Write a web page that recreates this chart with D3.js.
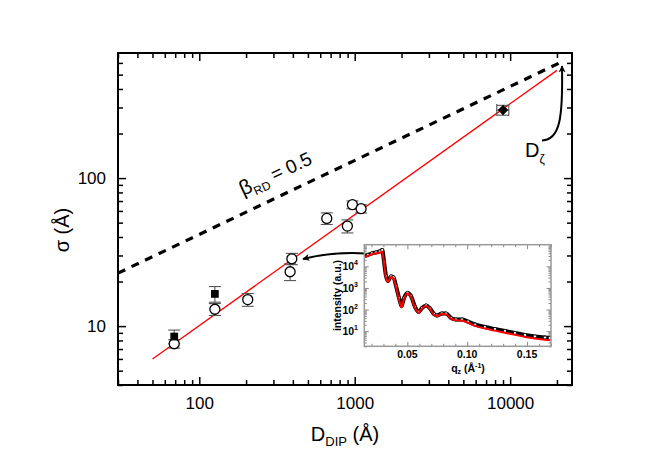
<!DOCTYPE html>
<html><head><meta charset="utf-8">
<script src="https://cdn.jsdelivr.net/npm/d3@7"></script>
<style>
body{margin:0;background:#fff;}
svg{display:block;font-family:"Liberation Sans",Arial,Helvetica,sans-serif;}
</style>
</head><body>
<svg id="c" width="664" height="463"></svg>
<script>
// ---- main plot data ----
const openD      = [69, 126, 205, 384, 394, 661, 897, 967, 1099];
const openSigma  = [7.6, 13.0, 15.1, 23.3, 28.5, 53.4, 47.4, 66.1, 62.1];
const openErr    = [0.5, 1.2, 1.5, 3.0, 2.5, 4.8, 4.8, 4.0, 4.0];
const squareD    = [69, 126];
const squareSigma= [8.5, 16.5];
const squareErr  = [0.9, 2.0];
const diamondD   = [9000];
const diamondSigma=[288];
const diamondXErr= [800];
const diamondYErr= [22];
const fitD       = [50, 20000];     // red power-law fit
const fitSigma   = [6, 534];
const betaD      = [30, 22000];     // beta_RD = 0.5 line
const betaSigma  = [22.8, 617];
const xTicks     = [100, 1000, 10000];
const xTickLabels= ["100", "1000", "10000"];
const yTicks     = [10, 100];
const yTickLabels= ["10", "100"];

// ---- inset data ----
const qz    = [0.014,0.0171,0.0204,0.0238,0.0271,0.029,0.0305,0.0321,0.0338,0.0363,0.0384,0.0405,0.043,0.0451,0.0472,0.0501,0.053,0.0564,0.0593,0.0622,0.0656,0.0689,0.0722,0.0747,0.0789,0.0823,0.0864,0.0906,0.0956,0.1006,0.1065,0.1148,0.1232,0.1315,0.1399,0.1483,0.1566,0.165,0.169];
const iMeas = [29500,34000,40000,44000,49000,57000,16000,3600,2100,3400,3100,1230,345,148,345,590,427,132,78,118,155,112,63,53,66,66,41,35,35,28,20.4,15.6,12.6,10.2,8.3,6.7,5.7,5.1,4.9];
const iFit  = [26000,31000,36000,40000,44000,47000,14000,3000,1900,3200,2800,1100,300,125,320,560,400,120,72,112,145,104,58,50,62,61,38,32,31,24.5,17.5,13.2,10.6,8.5,6.8,5.4,4.6,4.0,3.8];
const qTicks = [0.05, 0.10, 0.15];
const qTickLabels = ["0.05", "0.10", "0.15"];
const iTicks = [10, 100, 1000, 10000];
const iTickExp = ["1", "2", "3", "4"];

const svg = d3.select("#c");
const L=118, R=572, T=53, B=385;
const x = d3.scaleLog().domain([30, 25000]).range([L, R]);
const y = d3.scaleLog().domain([4, 700]).range([B, T]);

function minorLog(dom){
  const out=[];
  for(let e=-3;e<=6;e++){ for(let m=2;m<=9;m++){ const v=m*Math.pow(10,e); if(v>=dom[0]&&v<=dom[1]) out.push(v);} }
  return out;
}

// axes (inward ticks on all four sides)
const axG = svg.append("g");
function drawAxis(axisFn, scale, pos, major, labels, minor, showLabels){
  const gMin = axG.append("g").attr("transform", pos)
    .call(axisFn(scale).tickValues(minor).tickSize(-5).tickFormat(""));
  const gMaj = axG.append("g").attr("transform", pos)
    .call(axisFn(scale).tickValues(major).tickSize(-8).tickPadding(showLabels?12:0)
      .tickFormat((d,i)=> showLabels ? labels[i] : ""));
  [gMin,gMaj].forEach(g=>{ g.select(".domain").remove(); g.selectAll("line").attr("stroke","#000").attr("stroke-width",1.5); });
  gMaj.selectAll("text").attr("font-size",17).attr("fill","#000").attr("font-family","Liberation Sans, Arial, sans-serif");
  return gMaj;
}
drawAxis(d3.axisBottom, x, `translate(0,${B})`, xTicks, xTickLabels, minorLog(x.domain()), true);
drawAxis(d3.axisTop, x, `translate(0,${T})`, xTicks, xTickLabels, minorLog(x.domain()), false);
drawAxis(d3.axisLeft, y, `translate(${L},0)`, yTicks, yTickLabels, minorLog(y.domain()).filter(v=>v<700), true);
drawAxis(d3.axisRight, y, `translate(${R},0)`, yTicks, yTickLabels, minorLog(y.domain()).filter(v=>v<700), false);

svg.append("rect").attr("x",L).attr("y",T).attr("width",R-L).attr("height",B-T)
  .attr("fill","none").attr("stroke","#000").attr("stroke-width",2);

// lines
const lineMain = d3.line().x(d=>x(d[0])).y(d=>y(d[1]));
svg.append("path").datum(betaD.map((d,i)=>[d,betaSigma[i]]))
  .attr("d", lineMain).attr("fill","none").attr("stroke","#000")
  .attr("stroke-width",3.2).attr("stroke-dasharray","8,7");
svg.append("path").datum(fitD.map((d,i)=>[d,fitSigma[i]]))
  .attr("d", lineMain).attr("fill","none").attr("stroke","#ff0000").attr("stroke-width",1.3);

// error bars
const eb = svg.append("g").attr("stroke","#555").attr("stroke-width",1.1);
function vErr(D,s,e){
  const cx=x(D), y1=y(s-e), y2=y(s+e);
  eb.append("line").attr("x1",cx).attr("x2",cx).attr("y1",y1).attr("y2",y2);
  eb.append("line").attr("x1",cx-6).attr("x2",cx+6).attr("y1",y1).attr("y2",y1);
  eb.append("line").attr("x1",cx-6).attr("x2",cx+6).attr("y1",y2).attr("y2",y2);
}
function hErr(D,s,e){
  const cy=y(s), x1=x(D-e), x2=x(D+e);
  eb.append("line").attr("x1",x1).attr("x2",x2).attr("y1",cy).attr("y2",cy);
  eb.append("line").attr("x1",x1).attr("x2",x1).attr("y1",cy-6).attr("y2",cy+6);
  eb.append("line").attr("x1",x2).attr("x2",x2).attr("y1",cy-6).attr("y2",cy+6);
}
openD.forEach((d,i)=>vErr(d,openSigma[i],openErr[i]));
squareD.forEach((d,i)=>vErr(d,squareSigma[i],squareErr[i]));
diamondD.forEach((d,i)=>{vErr(d,diamondSigma[i],diamondYErr[i]); hErr(d,diamondSigma[i],diamondXErr[i]);});

// markers
svg.append("g").selectAll("circle").data(openD).join("circle")
  .attr("cx",d=>x(d)).attr("cy",(d,i)=>y(openSigma[i])).attr("r",5)
  .attr("fill","#fff").attr("stroke","#000").attr("stroke-width",1.3);
svg.append("g").selectAll("path").data(squareD).join("path")
  .attr("d", d3.symbol(d3.symbolSquare, 60))
  .attr("transform",(d,i)=>`translate(${x(d)},${y(squareSigma[i])})`).attr("fill","#000");
svg.append("g").selectAll("path").data(diamondD).join("path")
  .attr("d", d3.symbol(d3.symbolSquare, 55))
  .attr("transform",(d,i)=>`translate(${x(d)},${y(diamondSigma[i])}) rotate(45)`).attr("fill","#000");

// arrowheads
const defs = svg.append("defs");
defs.append("marker").attr("id","ah").attr("viewBox","0 0 10 10").attr("refX",9).attr("refY",5)
  .attr("markerWidth",10).attr("markerHeight",7).attr("markerUnits","userSpaceOnUse").attr("orient","auto")
  .append("path").attr("d","M0,0 L10,5 L0,10 L2.5,5 Z").attr("fill","#000");

// D_zeta arrow
svg.append("path").attr("d","M542,140.5 C560,140 563,118 562,66")
  .attr("fill","none").attr("stroke","#000").attr("stroke-width",2).attr("marker-end","url(#ah)");

// inset arrow
svg.append("path").attr("d","M366,253.5 Q333,251.5 303,259")
  .attr("fill","none").attr("stroke","#000").attr("stroke-width",2).attr("marker-end","url(#ah)");

// text
const bt = svg.append("text").attr("transform","translate(243,196) rotate(-25)").attr("font-size",19).attr("fill","#000");
bt.append("tspan").attr("font-size",21).text("β");
bt.append("tspan").attr("font-size",12).attr("dy",5).text("RD");
bt.append("tspan").attr("dy",-5).text(" = 0.5");

const dz = svg.append("text").attr("x",525).attr("y",157).attr("font-size",20).attr("fill","#000");
dz.append("tspan").text("D");
dz.append("tspan").attr("font-size",12).attr("dy",6).text("ζ");

const xl = svg.append("text").attr("x",345).attr("y",441).attr("text-anchor","middle").attr("font-size",20).attr("fill","#000");
xl.append("tspan").text("D");
xl.append("tspan").attr("font-size",13).attr("dy",5).text("DIP");
xl.append("tspan").attr("dy",-5).text(" (Å)");

svg.append("text").attr("transform","translate(69,230) rotate(-90)").attr("text-anchor","middle")
  .attr("font-size",20).attr("fill","#000").text("σ (Å)");

// ---- inset ----
const iL=364.3, iR=551, iT=244.7, iB=346.3;
const xi = d3.scaleLinear().domain([0.014, 0.17]).range([iL, iR]);
const yi = d3.scaleLog().domain([2, 1e5]).range([iB, iT]);
const ins = svg.append("g");
ins.append("rect").attr("x",iL).attr("y",iT).attr("width",iR-iL).attr("height",iB-iT).attr("fill","#fff");

const qMinor = d3.range(0.02, 0.1701, 0.01).filter(v=>Math.abs(v*20-Math.round(v*20))>1e-6);
function inAxis(fn, sc, pos, major, minor){
  const a = ins.append("g").attr("transform",pos).call(fn(sc).tickValues(minor).tickSize(-2.5).tickFormat(""));
  const b = ins.append("g").attr("transform",pos).call(fn(sc).tickValues(major).tickSize(-4.5).tickFormat(""));
  [a,b].forEach(g=>{g.select(".domain").remove(); g.selectAll("line").attr("stroke","#888").attr("stroke-width",1);});
}
inAxis(d3.axisBottom, xi, `translate(0,${iB})`, qTicks, qMinor);
inAxis(d3.axisTop, xi, `translate(0,${iT})`, qTicks, qMinor);
const iMinor = minorLog(yi.domain());
inAxis(d3.axisLeft, yi, `translate(${iL},0)`, iTicks, iMinor);
inAxis(d3.axisRight, yi, `translate(${iR},0)`, iTicks, iMinor);

const clip = defs.append("clipPath").attr("id","ic");
clip.append("rect").attr("x",iL).attr("y",iT).attr("width",iR-iL).attr("height",iB-iT);
const ip = ins.append("g").attr("clip-path","url(#ic)");
const lineIn = d3.line().x(d=>xi(d[0])).y(d=>yi(d[1])).curve(d3.curveMonotoneX);
const meas = qz.map((q,i)=>[q,iMeas[i]]);
const fit = qz.map((q,i)=>[q,iFit[i]]);
ip.append("path").datum(meas).attr("d",lineIn).attr("fill","none").attr("stroke","#000").attr("stroke-width",4);
ip.append("g").selectAll("circle").data(meas).join("circle")
  .attr("cx",d=>xi(d[0])).attr("cy",d=>yi(d[1])).attr("r",1.6)
  .attr("fill","#fff").attr("stroke","#000").attr("stroke-width",0.8);
ip.append("path").datum(fit).attr("d",lineIn).attr("fill","none").attr("stroke","#ff0000").attr("stroke-width",2);

ins.append("rect").attr("x",iL).attr("y",iT).attr("width",iR-iL).attr("height",iB-iT)
  .attr("fill","none").attr("stroke","#999").attr("stroke-width",1.5);

// inset labels
ins.append("g").selectAll("text").data(qTicks).join("text")
  .attr("x",d=>xi(d)).attr("y",358).attr("text-anchor","middle")
  .attr("font-size",10.5).attr("font-weight","bold").attr("fill","#000")
  .text((d,i)=>qTickLabels[i]);
iTicks.forEach((v,i)=>{
  const t = ins.append("text").attr("x",358).attr("y",yi(v)+4).attr("text-anchor","end")
    .attr("font-size",10.5).attr("font-weight","bold").attr("fill","#000");
  t.append("tspan").text("10");
  t.append("tspan").attr("font-size",7).attr("dy",-5).text(iTickExp[i]);
});
const ql = ins.append("text").attr("x",468).attr("y",372).attr("text-anchor","middle")
  .attr("font-size",10.5).attr("font-weight","bold").attr("fill","#000");
ql.append("tspan").text("q");
ql.append("tspan").attr("font-size",7).attr("dy",2).text("z");
ql.append("tspan").attr("dy",-2).text(" (Å");
ql.append("tspan").attr("font-size",7).attr("dy",-4).text("-1");
ql.append("tspan").attr("dy",4).text(")");
ins.append("text").attr("transform",`translate(341,${(iT+iB)/2}) rotate(-90)`).attr("text-anchor","middle")
  .attr("font-size",10.5).attr("font-weight","bold").attr("fill","#000").text("intensity (a.u.)");
</script>
</body></html>
